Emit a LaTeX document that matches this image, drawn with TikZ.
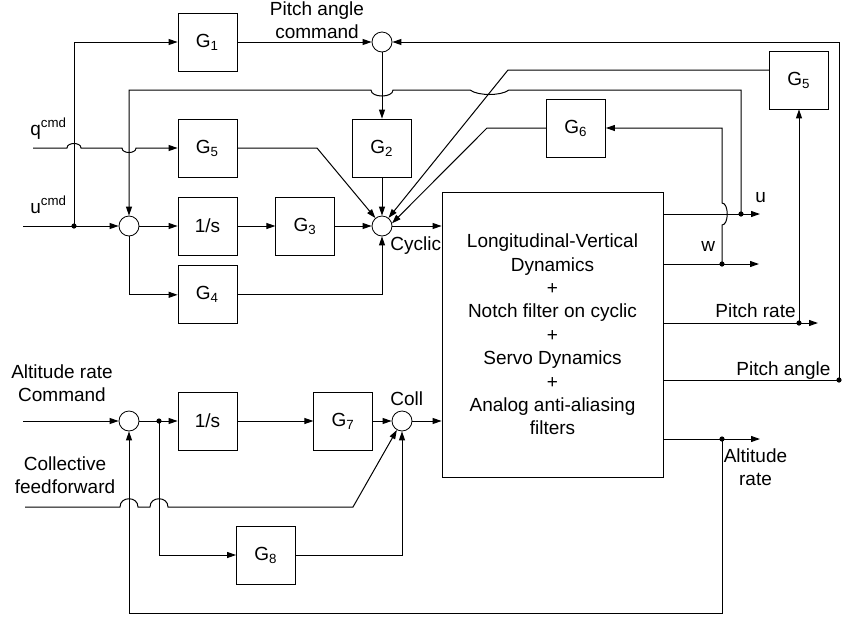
\documentclass[tikz,border=0pt]{standalone}
\usepackage{fontspec}
\setmainfont{Liberation Sans}
\usetikzlibrary{arrows.meta,positioning,calc}
\tikzset{
  block/.style={draw,minimum width=29.5pt,minimum height=29pt,inner sep=0pt,align=center},
  sumnode/.style={draw,circle,minimum size=10pt,inner sep=0pt},
  plantnode/.style={draw,minimum width=110.5pt,minimum height=142.5pt,inner sep=0pt,align=center},
  line/.style={-{Triangle[length=4.5pt,width=3pt]},line width=0.5pt},
  link/.style={line width=0.5pt},
  tag/.style={inner sep=0pt,align=center}
}

\begin{document}
\begin{tikzpicture}[x=0.5pt,y=-0.5pt,font=\fontsize{9.5}{11.7}\selectfont]
  \useasboundingbox (0,0) rectangle (843,617);

  % Cyclic channel
  \node[block] (g1) at (207.5,42) {G\textsubscript{1}};
  \node[sumnode] (pitchsum) at (382,42) {};
  \node[block] (g5a) at (207.5,148) {G\textsubscript{5}};
  \node[block] (g2) at (382,148) {G\textsubscript{2}};
  \node[sumnode] (usum) at (129,226) {};
  \node[block] (intu) at (207.5,226) {1/s};
  \node[block,right=19pt of intu] (g3) {G\textsubscript{3}};
  \node[block,below=5pt of intu] (g4) {G\textsubscript{4}};
  \node[sumnode] (cycsum) at (382,226) {};

  \node[plantnode] (plant) at (552.5,334.5) {Longitudinal-Vertical\\Dynamics\\+\\Notch filter on cyclic\\+\\Servo Dynamics\\+\\Analog anti-aliasing\\filters};
  \node[block] (g5b) at (799,80) {G\textsubscript{5}};
  \node[block] (g6) at (576,128) {G\textsubscript{6}};

  % Collective channel
  \node[sumnode] (altsum) at (129,421) {};
  \node[block] (inth) at (207.5,421) {1/s};
  \node[block,right=38pt of inth] (g7) {G\textsubscript{7}};
  \node[sumnode] (collsum) at (402,421) {};
  \node[block] (g8) at (266,555) {G\textsubscript{8}};

  % Inputs, branch points, outputs
  \coordinate (ucmd) at (23,226);
  \coordinate (qcmd) at (33,148);
  \coordinate (hcmd) at (23,421);
  \coordinate (cff) at (25,507);
  \coordinate (ubr) at (74,226);
  \coordinate (hbr) at (159,421);
  \coordinate (uout) at (741,214);
  \coordinate (uend) at (760,214);
  \coordinate (wout) at (722,264);
  \coordinate (wend) at (759,264);
  \coordinate (qout) at (799,323);
  \coordinate (qend) at (818,323);
  \coordinate (thout) at (839,380);
  \coordinate (hout) at (722,439);
  \coordinate (hend) at (760,439);

  % Labels
  \node[tag] (pitchcmd) at (317,20) {Pitch angle\\command};
  \node[tag,anchor=base west] (qlab) at (30,135) {q\textsuperscript{cmd}};
  \node[tag,anchor=base west] (ulab) at (30,213) {u\textsuperscript{cmd}};
  \node[tag,anchor=base west] (cyclab) at (390,250) {Cyclic};
  \node[tag,anchor=base west] (uoutlab) at (755,202) {u};
  \node[tag,anchor=base west] (woutlab) at (701,251) {w};
  \node[tag,anchor=base west] (qoutlab) at (715,317) {Pitch rate};
  \node[tag,anchor=base west] (thoutlab) at (736,375) {Pitch angle};
  \node[tag] (houtlab) at (755.5,467) {Altitude\\rate};
  \node[tag] (hcmdlab) at (62,383) {Altitude rate\\Command};
  \node[tag] (cfflab) at (65,475.5) {Collective\\feedforward};
  \node[tag,anchor=base west] (colllab) at (390,405) {Coll};

  % Cyclic connectors
  \draw[line] (ucmd) -- (usum);
  \draw[line] (ubr) |- (g1);
  \draw[line] (qcmd) -- (67,148) .. controls +(0,-6) and +(0,-6) .. (81,148) -- (122,148) .. controls +(0,6) and +(0,6) .. (136,148) -- (g5a);
  \draw[line] (g1) -- (pitchsum);
  \draw[line] (pitchsum) -- (g2);
  \draw[line] (usum) -- (intu);
  \draw[line] (intu) -- (g3);
  \draw[line] (g3) -- (cycsum);
  \draw[line] (usum) |- (g4);
  \draw[line] (g4) -| (cycsum);
  \draw[line] (g5a) -- (317,148) -- (cycsum);
  \draw[line] (g2) -- (cycsum);
  \draw[line] ($(g5b.west)+(0,-10)$) -- (508,70) -- (cycsum);
  \draw[line] (g6) -- (487,128) -- (cycsum.15);
  \draw[line] (cycsum) -- (plant.west |- cycsum);

  % Feedback from the outputs
  \draw[line] (plant.east |- uout) -- (uend);
  \draw[line] (uout) -- (741,90) -- (509,90) .. controls +(-8,6) and +(8,6) .. (470,90) -- (393,90) .. controls +(0,8) and +(0,8) .. (371,90) -| (usum);
  \draw[line] (plant.east |- wout) -- (wend);
  \draw[line] (wout) -- (722,225) .. controls +(7,0) and +(7,0) .. (722,203) |- (g6);
  \draw[line] (plant.east |- qout) -- (qend);
  \draw[line] (qout) -- (g5b);
  \draw[link] (plant.east |- thout) -- (thout);
  \draw[line] (thout) |- (pitchsum);

  % Collective connectors
  \draw[line] (hcmd) -- (altsum);
  \draw[line] (altsum) -- (inth);
  \draw[line] (inth) -- (g7);
  \draw[line] (g7) -- (collsum);
  \draw[line] (collsum) -- (plant.west |- collsum);
  \draw[line] (hbr) |- (g8);
  \draw[line] (g8) -| (collsum);
  \draw[line] (cff) -- (120,507) .. controls +(0,-11) and +(0,-11) .. (138,507) -- (150,507) .. controls +(0,-11) and +(0,-11) .. (168,507) -- (353,507) -- (collsum);
  \draw[line] (plant.east |- hout) -- (hend);
  \draw[line] (hout) -- (722,613) -| (altsum);

  \foreach \p in {ubr,hbr,uout,wout,qout,thout,hout}
    \fill (\p) circle[radius=1.3pt];
\end{tikzpicture}
\end{document}
